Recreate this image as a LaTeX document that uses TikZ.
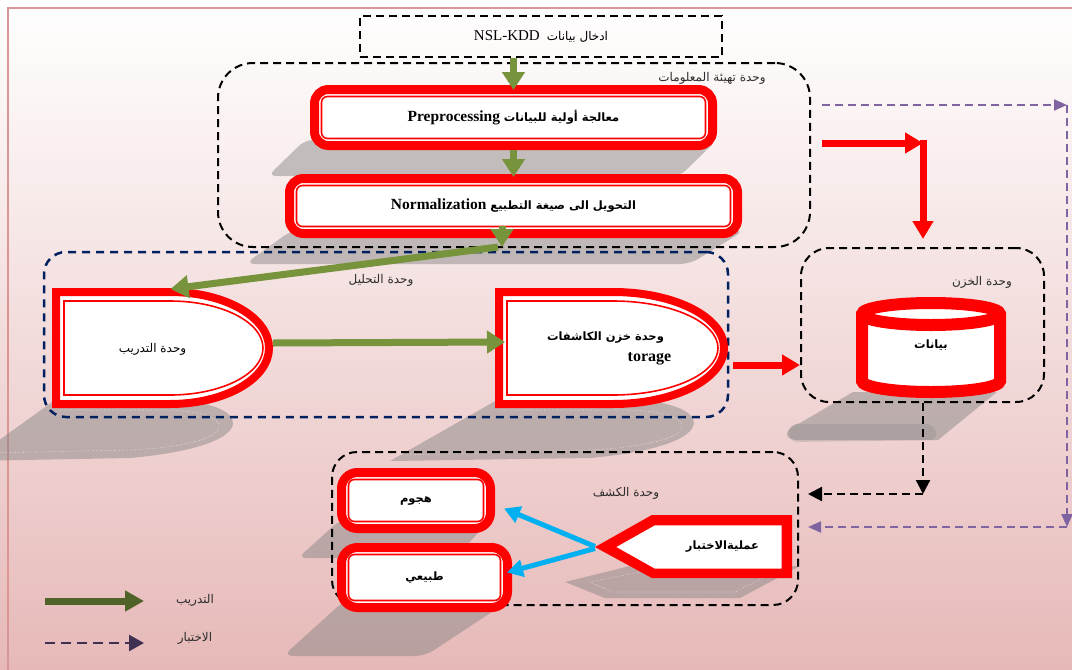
\documentclass[tikz,border=0pt]{standalone}
\usepackage{fontspec}
\setmainfont{Liberation Serif}
\newfontfamily\arabicfont[Script=Arabic]{DejaVu Sans}
\TeXXeTstate=1
\usetikzlibrary{arrows.meta}
\newcommand{\arr}{\arabicfont\fontsize{12}{14}\selectfont}
\newcommand{\arb}{\arabicfont\bfseries\fontsize{11.5}{14}\selectfont}
\definecolor{bgpink}{RGB}{230,185,184}
\definecolor{bgmid}{RGB}{243,222,222}
\definecolor{borderpink}{RGB}{217,150,148}
\definecolor{olivegr}{RGB}{119,147,60}
\definecolor{darkolive}{RGB}{79,98,40}
\definecolor{navyblue}{RGB}{0,32,96}
\definecolor{tpurple}{RGB}{128,100,162}
\definecolor{dpurple}{RGB}{63,49,81}
\definecolor{cyanb}{RGB}{0,176,240}
\definecolor{shgray}{RGB}{128,128,128}
\definecolor{lblgray}{RGB}{45,45,45}
\begin{document}
\begin{tikzpicture}[x=1pt,y=-1pt,
  redbox/.style={draw=red, line width=9pt, fill=white, rounded corners=#1, inner sep=0pt,
    path picture={\draw[red, line width=1.6pt, rounded corners=6pt]
      ([shift={(7pt,-7pt)}]path picture bounding box.north west) rectangle
      ([shift={(-7pt,7pt)}]path picture bounding box.south east);}},
  redline/.style={draw=red, line width=8pt, fill=white, line join=miter},
  thinred/.style={draw=red, line width=1.6pt},
  anch/.style={inner sep=0pt, outer sep=0pt},
  cont/.style={draw=black, line width=2pt, dash pattern=on 8pt off 5pt, inner sep=0pt},
  navycont/.style={draw=navyblue, line width=2.5pt, dash pattern=on 8pt off 6pt, inner sep=0pt},
  lbl/.style={inner sep=0pt, text=lblgray},
  garrow/.style={draw=olivegr, line width=7pt, -{Triangle[length=18pt,width=22pt]}},
  rarrow/.style={draw=red, line width=7pt, -{Triangle[length=18pt,width=20pt]}},
  parrow/.style={draw=tpurple, line width=2.2pt, dash pattern=on 8pt off 5pt, -{Triangle[length=13pt,width=11pt]}},
  barrow/.style={draw=black, line width=2.2pt, dash pattern=on 8pt off 5pt, -{Triangle[length=14pt,width=14pt]}},
  carrow/.style={draw=cyanb, line width=5pt, -{Triangle[length=16pt,width=17pt]}},
  lgarrow/.style={draw=darkolive, line width=7pt, -{Triangle[length=19pt,width=20pt]}},
  ldarrow/.style={draw=dpurple, line width=2.5pt, dash pattern=on 10pt off 6pt, -{Triangle[length=15pt,width=16pt]}},
  shadow/.style={fill=shgray, fill opacity=0.45},
  sdot/.style={draw=white, line width=0.6pt, dotted, draw opacity=0.8}
]
\useasboundingbox (0,0) rectangle (1072,670);
\shade[top color=white, middle color=bgmid, bottom color=bgpink] (0,0) rectangle (1072,670);
\draw[borderpink, line width=2.5pt] (8,670) -- (8,8) -- (1072,8);

% ---------- shadows ----------
\fill[shadow, rounded corners=8pt] (305,140) -- (717,140) -- (680,176) -- (268,176) -- cycle;
\fill[shadow, rounded corners=10pt] (292,230) -- (745,230) -- (690,264) -- (245,264) -- cycle;
\fill[shadow] (55,400) -- (160,400) .. controls (250,398) and (275,445) .. (130,458) -- (-30,461) -- cycle;
\draw[sdot] (60,410) -- (160,410) .. controls (236,409) and (252,444) .. (130,450) -- (-10,453);
\fill[shadow] (497,400) -- (620,400) .. controls (712,398) and (735,445) .. (590,458) -- (390,461) -- cycle;
\draw[sdot] (500,410) -- (620,410) .. controls (698,409) and (718,443) .. (590,450) -- (400,455);
\fill[shadow] (853,392) -- (997,392) -- (938,440) -- (798,440) .. controls (782,440) and (784,428) .. (800,423) -- cycle;
\fill[shadow, fill opacity=0.25, rounded corners=8pt] (789,424) -- (934,424) -- (938,440) -- (789,442) -- cycle;
\fill[shadow, rounded corners=8pt] (340,520) -- (490,520) -- (455,558) -- (298,558) -- cycle;
\fill[shadow, rounded corners=10pt] (345,600) -- (510,600) -- (425,656) -- (283,656) -- cycle;
\fill[shadow] (565,582) -- (630,566) -- (800,566) -- (740,598) -- (605,598) -- cycle;
\draw[sdot] (590,582) -- (640,572) -- (775,572) -- (735,592) -- (612,592) -- cycle;

% ---------- containers ----------
\node[cont, minimum width=362pt, minimum height=41pt, font=\fontsize{15}{18}\selectfont] (input) at (541,36.5)
  {NSL-KDD\hspace{7pt}{\arr\beginR ادخال بيانات\endR}};
\node[cont, rounded corners=35pt, minimum width=592pt, minimum height=184pt] (prepcont) at (514,155) {};
\node[navycont, rounded corners=22pt, minimum width=684pt, minimum height=165pt] (anacont) at (386,334.5) {};
\node[cont, rounded corners=28pt, minimum width=243pt, minimum height=154pt] (storecont) at (922.5,325) {};
\node[cont, rounded corners=25pt, minimum width=466pt, minimum height=153pt] (detcont) at (565,528.5) {};

% ---------- boxes ----------
\node[redbox=14pt, minimum width=398pt, minimum height=56pt, font=\fontsize{15.5}{18}\selectfont\bfseries] (pre) at (513.5,117.5)
  {Preprocessing {\arb\beginR معالجة أولية للبيانات\endR}};
\node[redbox=14pt, minimum width=448pt, minimum height=55pt, font=\fontsize{15.5}{18}\selectfont\bfseries] (norm) at (513.5,206)
  {Normalization {\arb\beginR التحويل الى صيغة التطبيع\endR}};
\node[redbox=16pt, minimum width=149pt, minimum height=56pt] (attack) at (416,500.5) {{\arb\beginR هجوم\endR}};
\node[redbox=16pt, minimum width=166pt, minimum height=60pt] (normal) at (424.5,577.5) {{\arb\beginR طبيعي\endR}};

% training unit (D shape)
\draw[redline] (56,292) -- (170,292) arc (90:-90:99pt and 56pt) -- (56,404) -- cycle;
\draw[thinred] (64,301) -- (170,301) arc (90:-90:93pt and 47pt) -- (64,395) -- cycle;
\node[anch, minimum width=221pt, minimum height=120pt] (train) at (162.5,349)
  {{\arr\beginR وحدة التدريب\endR}\hspace*{20pt}};

% detector storage (D shape)
\draw[redline] (499,292) -- (613,292) arc (90:-90:111pt and 56pt) -- (499,404) -- cycle;
\draw[thinred] (507,301) -- (613,301) arc (90:-90:105pt and 47pt) -- (507,395) -- cycle;
\node[anch, minimum width=233pt, minimum height=120pt, align=center, font=\fontsize{16}{21}\selectfont\bfseries] (detstore) at (611.5,348)
  {{\arb\beginR وحدة خزن الكاشفات\endR}\hspace*{12pt}\\ \hspace*{76pt}torage};

% data cylinder
\draw[draw=red, line width=12pt, fill=white] (862,314) -- (862,381) arc (180:360:69pt and 11pt) -- (1000,314) arc (0:180:69pt and 11pt) -- cycle;
\draw[draw=red, line width=12pt] (862,314) arc (180:360:69pt and 11pt);
\node[anch, minimum width=150pt, minimum height=101pt] (data) at (931,345) {{\arb\beginR بيانات\endR}};

% test process (pointed box)
\draw[redline, line width=9pt] (604.3,547) -- (653,519.5) -- (787.5,519.5) -- (787.5,573.5) -- (653,573.5) -- cycle;
\draw[thinred] (614.5,547) -- (654.5,524.5) -- (782.5,524.5) -- (782.5,569.5) -- (654.5,569.5) -- cycle;
\node[anch, minimum width=197pt, minimum height=63pt] (test) at (693.5,546.5)
  {\hspace*{58pt}{\arb\beginR عمليةالاختبار\endR}};

% ---------- connectors ----------
\draw[garrow] (input.south -| pre.north) -- ([yshift=-5pt]pre.north);
\draw[garrow] (pre.south) -- ([yshift=-3pt]norm.north);
\coordinate (nb) at (502,247);
\draw[garrow] ([xshift=-11.5pt,yshift=12pt]norm.south) -- (nb);
\draw[garrow] ([xshift=-4pt]nb) -- ([xshift=8pt]train.north);
\draw[garrow] ([yshift=6pt]train.east) -- ([xshift=10pt,yshift=6pt]detstore.west);
\coordinate (da) at ([xshift=5pt,yshift=-17pt]detstore.east);
\draw[rarrow] (da) -- (da -| storecont.west);
\coordinate (ra) at (822,143);
\coordinate (rb) at (923,143);
\draw[rarrow] (ra) -- (rb);
\draw[rarrow, shorten >=8pt] ([yshift=3pt]rb) -- (rb |- storecont.north);
\coordinate (pa) at (822,105);
\coordinate (pb) at (1067,105);
\coordinate (pc) at (1067,527);
\draw[parrow] (pa) -- (pb);
\draw[parrow] (pb) -- (pc);
\draw[parrow, shorten >=9pt] (pc) -- (pc -| detcont.east);
\coordinate (bb) at (923,494);
\draw[barrow] (storecont.south -| bb) -- (bb);
\draw[barrow, shorten >=9pt] (bb) -- (bb -| detcont.east);
\draw[carrow] (test.west) -- ([xshift=9pt,yshift=-8pt]attack.east);
\draw[carrow] ([yshift=-2pt]test.west) -- ([xshift=-5pt,yshift=5pt]normal.east);

% ---------- container labels ----------
\node[lbl] (lprep) at (712,78) {{\arr\beginR وحدة تهيئة المعلومات\endR}};
\node[lbl] (lana) at (381,280) {{\arr\beginR وحدة التحليل\endR}};
\node[lbl] (lstore) at (982,282) {{\arr\beginR وحدة الخزن\endR}};
\node[lbl] (ldet) at (626,493) {{\arr\beginR وحدة الكشف\endR}};

% ---------- legend ----------
\coordinate (lg1) at (45,601);
\coordinate (lg2) at (144,601);
\draw[lgarrow] (lg1) -- (lg2);
\node[lbl] (lgt) at (195,600) {{\arr\beginR التدريب\endR}};
\coordinate (ld1) at (45,643);
\coordinate (ld2) at (144,643);
\draw[ldarrow] (ld1) -- (ld2);
\node[lbl] (ldt) at (195,638) {{\arr\beginR الاختبار\endR}};
\end{tikzpicture}
\end{document}
